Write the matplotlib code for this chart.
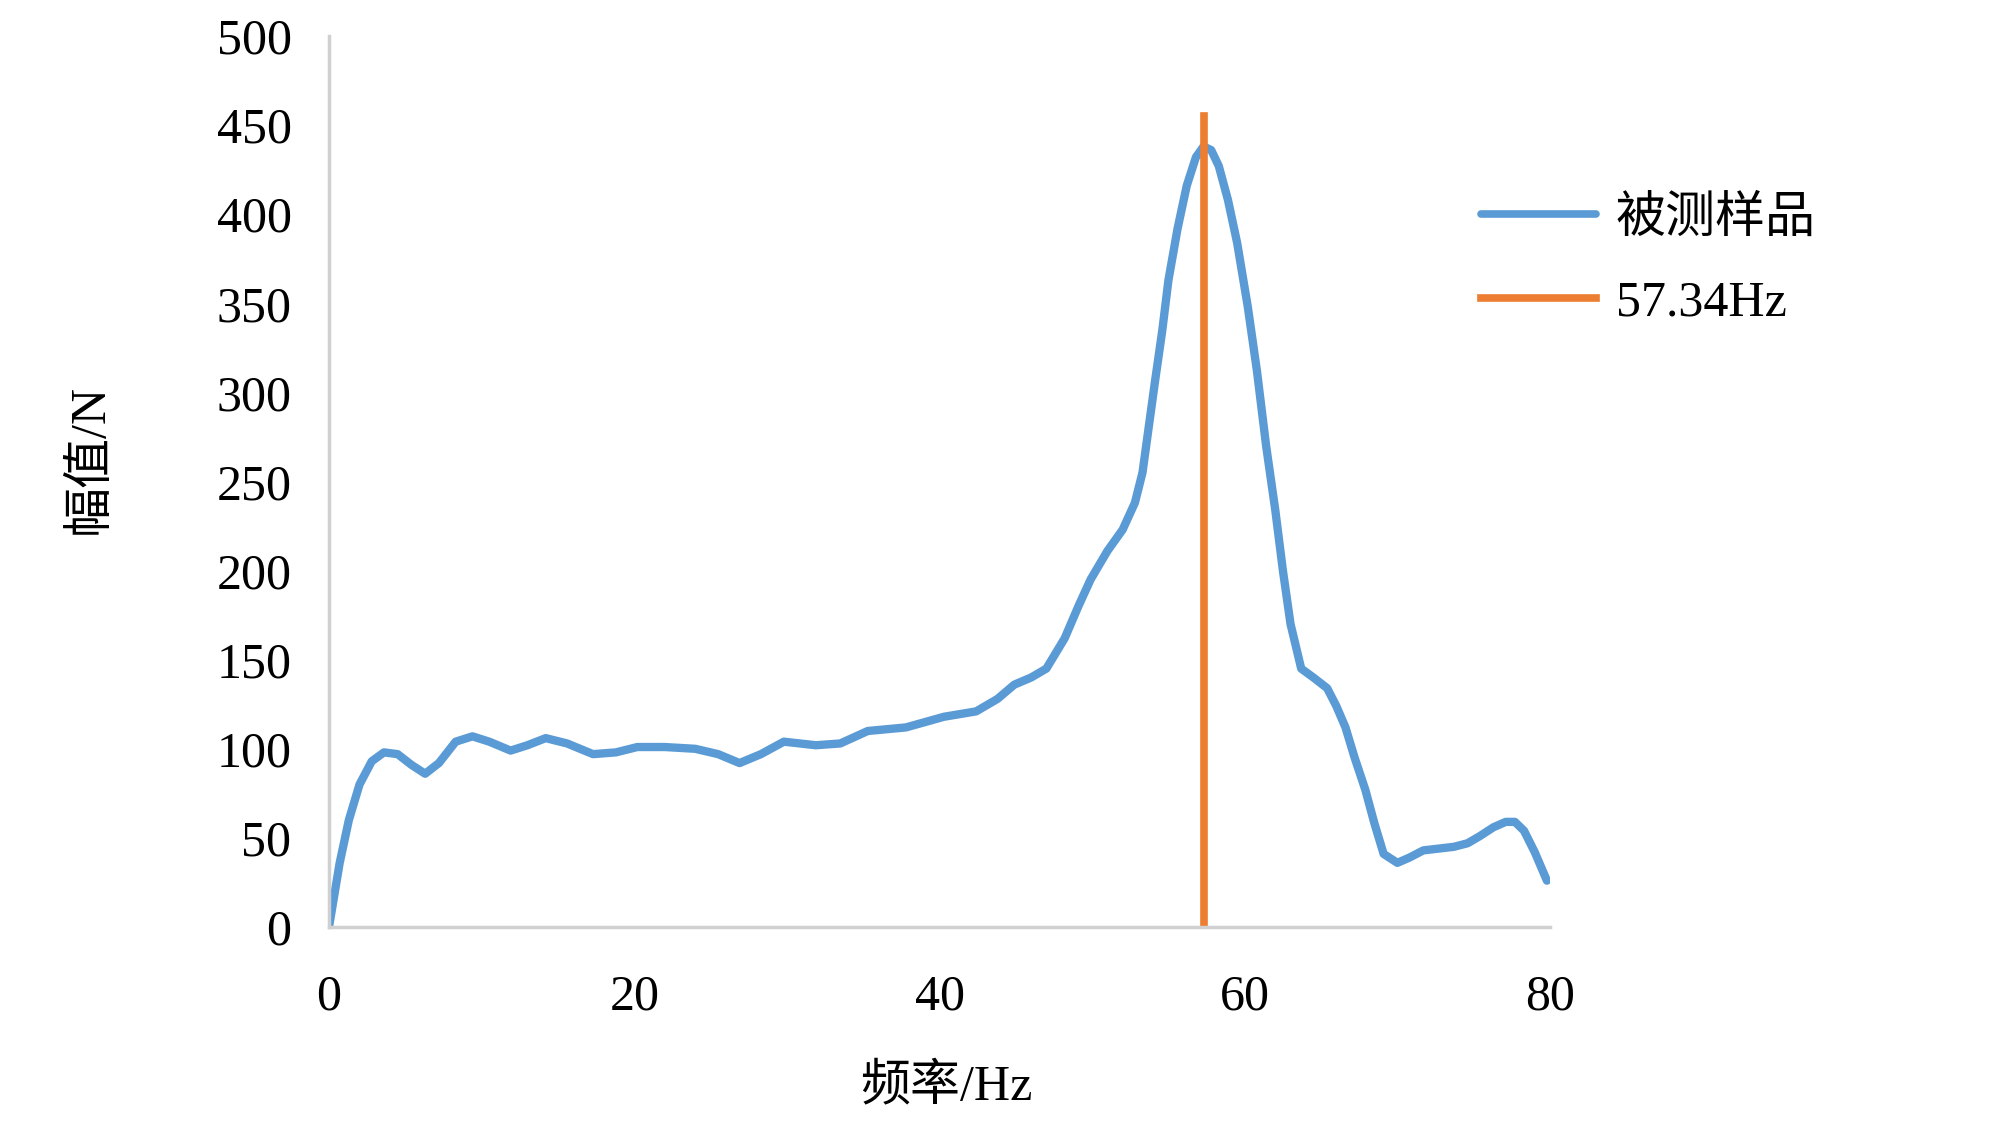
import numpy as np
import matplotlib
matplotlib.use("Agg")
from matplotlib import pyplot as plt

plt.rcParams['font.family'] = ['Liberation Serif', 'Noto Sans CJK SC']

# frequency (Hz) and amplitude (N)
freq = [0, 0.7, 1.3, 2.0, 2.8, 3.6, 4.5, 5.4, 6.3, 7.2, 8.3, 9.4, 10.5,
        11.9, 13.0, 14.2, 15.6, 17.3, 18.8, 20.2, 22.0, 24.0, 25.5, 26.9,
        28.3, 29.8, 31.9, 33.5, 35.3, 37.8, 40.3, 42.4, 43.8, 44.9, 46.0,
        47.0, 48.2, 49.1, 49.9, 51.0, 52.0, 52.8, 53.3, 53.7, 54.1, 54.6,
        55.0, 55.6, 56.2, 56.8, 57.3, 57.8, 58.3, 58.9, 59.5, 60.2, 60.8,
        61.4, 62.0, 62.5, 63.0, 63.7, 64.5, 65.4, 66.0, 66.6, 67.2, 67.9,
        68.5, 69.1, 70.0, 70.8, 71.7, 72.7, 73.7, 74.6, 75.4, 76.3, 77.1,
        77.7, 78.3, 79.0, 79.8]
amp = [0, 36, 60, 80, 93, 98, 97, 91, 86, 92, 104, 107, 104,
       99, 102, 106, 103, 97, 98, 101, 101, 100, 97, 92,
       97, 104, 102, 103, 110, 112, 118, 121, 128, 136, 140,
       145, 162, 180, 195, 211, 223, 238, 255, 280, 305, 335,
       363, 392, 416, 432, 438, 436, 427, 408, 384, 348, 312,
       270, 234, 200, 170, 145, 140, 134, 124, 112, 95, 77,
       58, 41, 36, 39, 43, 44, 45, 47, 51, 56, 59,
       59, 54, 42, 26]

peak_x = [57.34, 57.34]
peak_y = [0, 455]

blue = '#5B9BD5'
orange = '#ED7D31'

fig = plt.figure(figsize=(20, 11.47), dpi=100)
ax = fig.add_axes([0.1645, 0.1918, 0.6105, 0.7768])

ax.plot(freq, amp, color=blue, lw=6, solid_joinstyle='round',
        solid_capstyle='round', label='被测样品')
ax.plot(peak_x, peak_y, color=orange, lw=5.5, label='57.34Hz')

ax.set_xlim(0, 80)
ax.set_ylim(0, 500)
ax.set_xticks([0, 20, 40, 60, 80])
ax.set_yticks(np.arange(0, 501, 50))
ax.tick_params(length=0, labelsize=36)
ax.tick_params(axis='x', pad=34)
ax.tick_params(axis='y', pad=27)

for s in ['top', 'right']:
    ax.spines[s].set_visible(False)
for s in ['left', 'bottom']:
    ax.spines[s].set_color('#d0d0d0')
    ax.spines[s].set_linewidth(2.5)

fig.text(0.473, 0.052, '频率/Hz', fontsize=36, ha='center', va='center')
fig.text(0.045, 0.6, '幅值/N', fontsize=36, ha='center', va='center',
         rotation=90)

leg = ax.legend(loc='upper left', bbox_to_anchor=(0.718, 0.868),
                bbox_transform=fig.transFigure, frameon=False, fontsize=36,
                handlelength=2.3, handletextpad=0.4, labelspacing=0.75)
for h in leg.get_lines():
    h.set_linewidth(5.5)

fig.savefig('out.png', dpi=100)
